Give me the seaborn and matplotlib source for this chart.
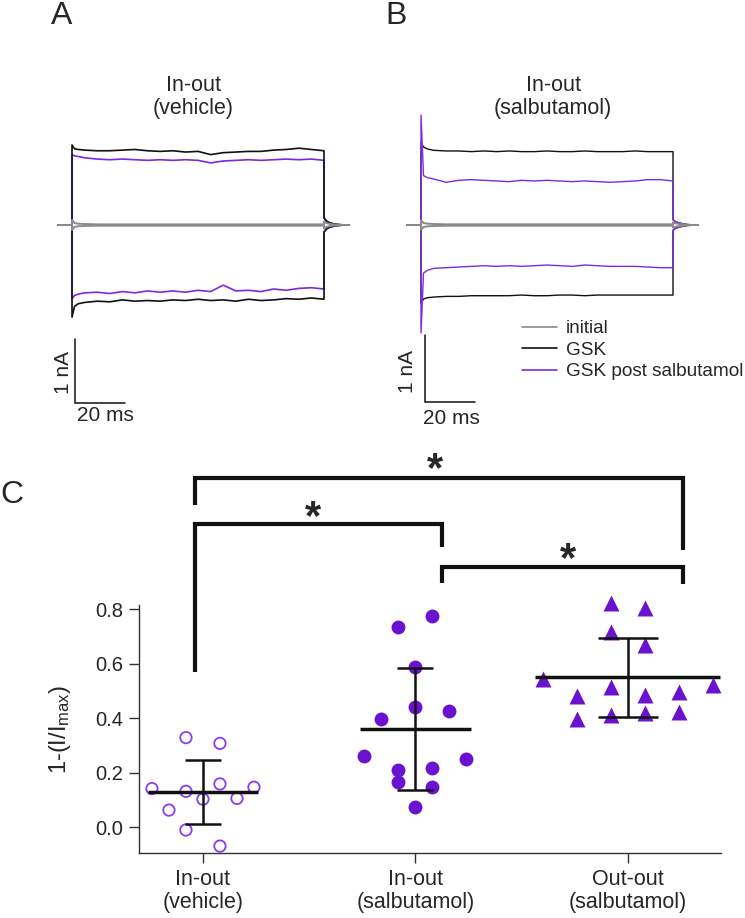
import numpy as np
import matplotlib
matplotlib.use("Agg")
import matplotlib.pyplot as plt
import seaborn as sns

# ---------------- Panel C data ----------------
group_labels = ["In-out\n(vehicle)", "In-out\n(salbutamol)", "Out-out\n(salbutamol)"]
vehicle = [0.328, 0.307, 0.141, 0.131, 0.158, 0.146, 0.102, 0.105, 0.062, -0.011, -0.070]
salb_in = [0.774, 0.733, 0.586, 0.442, 0.427, 0.395, 0.261, 0.250, 0.209, 0.215, 0.166, 0.148, 0.072]
salb_out = [0.823, 0.803, 0.717, 0.668, 0.542, 0.513, 0.521, 0.481, 0.484, 0.494, 0.395, 0.411, 0.417, 0.423]
# column slot of each point within its group (scatter layout)
vehicle_slot = [-1, 1, -3, -1, 1, 3, 0, 2, -2, -1, 1]
salb_in_slot = [1, -1, 0, 0, 2, -2, -3, 3, -1, 1, -1, 1, 0]
salb_out_slot = [-1, 1, -1, 1, -5, -1, 5, -3, 1, 3, -3, -1, 1, 3]
yticks = [0.0, 0.2, 0.4, 0.6, 0.8]
ytick_labels = ["0.0", "0.2", "0.4", "0.6", "0.8"]
sig_label = "*"

# ---------------- Panel A/B trace data (nA) ----------------
t_pre = [-5.5, 0]
t_step = [0, 1, 2.5, 5, 10, 15, 20, 25, 30, 35, 40, 45, 50, 55, 60, 65, 70, 75, 80, 85, 90, 95, 100]
t_tail = [100, 101, 102.5, 105, 108, 110]

A_gsk_pos = [1.25, 1.19, 1.18, 1.17, 1.16, 1.16, 1.17, 1.18, 1.16, 1.15, 1.16, 1.14, 1.15, 1.10, 1.13, 1.14, 1.15, 1.15, 1.17, 1.18, 1.20, 1.18, 1.16]
A_post_pos = [1.10, 1.08, 1.07, 1.05, 1.03, 1.02, 1.03, 1.02, 1.01, 1.02, 1.01, 1.02, 1.01, 0.97, 1.00, 1.01, 1.02, 1.01, 1.02, 1.03, 1.02, 1.03, 1.01]
A_gsk_neg = [-1.44, -1.27, -1.23, -1.21, -1.19, -1.20, -1.17, -1.19, -1.18, -1.19, -1.17, -1.18, -1.16, -1.18, -1.17, -1.19, -1.16, -1.18, -1.17, -1.15, -1.16, -1.14, -1.16]
A_post_neg = [-1.15, -1.10, -1.08, -1.06, -1.05, -1.07, -1.04, -1.06, -1.03, -1.05, -1.03, -1.05, -1.02, -1.04, -0.94, -1.03, -1.02, -1.04, -1.00, -1.02, -0.99, -0.98, -1.00]
A_init_pos = [0.08, 0.03, 0.02, 0.015, 0.01, 0.01, 0.01, 0.01, 0.01, 0.01, 0.01, 0.01, 0.01, 0.01, 0.01, 0.01, 0.01, 0.01, 0.01, 0.01, 0.01, 0.01, 0.01]
A_init_neg = [-0.08, -0.03, -0.02, -0.015, -0.01, -0.01, -0.01, -0.01, -0.01, -0.01, -0.01, -0.01, -0.01, -0.01, -0.01, -0.01, -0.01, -0.01, -0.01, -0.01, -0.01, -0.01, -0.01]
A_tail_pos = [0.11, 0.06, 0.03, 0.01, 0.0, 0.0]
A_tail_neg = [-0.11, -0.06, -0.03, -0.01, 0.0, 0.0]

B_gsk_pos = [1.23, 1.17, 1.14, 1.12, 1.11, 1.11, 1.10, 1.11, 1.10, 1.11, 1.10, 1.10, 1.11, 1.10, 1.10, 1.11, 1.10, 1.10, 1.10, 1.11, 1.10, 1.10, 1.10]
B_post_pos = [1.65, 0.74, 0.71, 0.69, 0.64, 0.67, 0.68, 0.67, 0.66, 0.65, 0.67, 0.66, 0.67, 0.66, 0.65, 0.66, 0.65, 0.64, 0.65, 0.66, 0.68, 0.68, 0.66]
B_gsk_neg = [-1.18, -1.11, -1.09, -1.08, -1.07, -1.07, -1.06, -1.06, -1.06, -1.06, -1.05, -1.06, -1.06, -1.05, -1.05, -1.06, -1.05, -1.05, -1.05, -1.05, -1.05, -1.05, -1.05]
B_post_neg = [-1.62, -0.72, -0.68, -0.65, -0.64, -0.63, -0.62, -0.61, -0.62, -0.61, -0.62, -0.61, -0.60, -0.61, -0.62, -0.60, -0.61, -0.62, -0.62, -0.62, -0.63, -0.64, -0.64]
B_init_pos = [0.07, 0.03, 0.02, 0.015, 0.01, 0.01, 0.01, 0.01, 0.01, 0.01, 0.01, 0.01, 0.01, 0.01, 0.01, 0.01, 0.01, 0.01, 0.01, 0.01, 0.01, 0.01, 0.01]
B_init_neg = [-0.07, -0.03, -0.02, -0.015, -0.01, -0.01, -0.01, -0.01, -0.01, -0.01, -0.01, -0.01, -0.01, -0.01, -0.01, -0.01, -0.01, -0.01, -0.01, -0.01, -0.01, -0.01, -0.01]
B_tail_pos = [0.08, 0.05, 0.03, 0.01, 0.0, 0.0]
B_tail_neg = [-0.08, -0.05, -0.03, -0.01, 0.0, 0.0]

legend_labels = ["initial", "GSK", "GSK post salbutamol"]
bar_nA = 1
bar_ms = 20

# ---------------- style ----------------
sns.set_style("ticks")
plt.rcParams["font.family"] = ["Liberation Sans", "DejaVu Sans"]
plt.rcParams["mathtext.default"] = "regular"

PURPLE = "#6a12d0"
OPEN_PURPLE = "#8a3cf2"
TRACE_PURPLE = "#7a2ae6"
GRAY = "#8a8a8a"
BLACK = "#111111"

W, H = 745, 918
fig = plt.figure(figsize=(W / 100, H / 100), dpi=100)


def fx(px):
    return px / W


def fy(py):
    return 1 - py / H


# ---------------- Panels A and B ----------------
def trace(step, tail):
    t = t_pre + t_step + t_tail
    v = [0, 0] + list(step) + list(tail)
    return t, v


def draw_traces(ax, init_p, init_n, gsk_p, gsk_n, post_p, post_n, tail_p, tail_n,
                lw, purple_on_top):
    black = [(gsk_p, tail_p, BLACK), (gsk_n, tail_n, BLACK)]
    purple = [(post_p, tail_p, TRACE_PURPLE), (post_n, tail_n, TRACE_PURPLE)]
    layers = black + purple if purple_on_top else purple + black
    for step, tail, col in layers:
        t, v = trace(step, tail)
        sns.lineplot(x=t, y=v, sort=False, estimator=None, ax=ax, color=col, lw=lw)
    for step, tail in [(init_p, tail_p), (init_n, tail_n)]:
        t, v = trace(step, [x * 0.5 for x in tail])
        sns.lineplot(x=t, y=v, sort=False, estimator=None, ax=ax, color=GRAY, lw=1.4)
    ax.set_axis_off()


axA = fig.add_axes([fx(40), fy(440), fx(330), 340 / H])
draw_traces(axA, A_init_pos, A_init_neg, A_gsk_pos, A_gsk_neg, A_post_pos, A_post_neg,
            A_tail_pos, A_tail_neg, 1.2, purple_on_top=False)
axA.set_xlim(-12.70, 118.25)
axA.set_ylim(-3.359, 1.953)

axB = fig.add_axes([fx(390), fy(440), fx(330), 340 / H])
draw_traces(axB, B_init_pos, B_init_neg, B_gsk_pos, B_gsk_neg, B_post_pos, B_post_neg,
            B_tail_pos, B_tail_neg, 1.0, purple_on_top=True)
axB.set_xlim(-12.30, 118.65)
axB.set_ylim(-3.223, 1.874)

# scale bars
for ax, (t0, y0), (tx, ty), (sx, sy) in [
        (axA, (1.19, -2.78), (-3.2, -2.31), (2.0, -2.97)),
        (axB, (1.59, -2.65), (-5.2, -2.20), (0.8, -2.90))]:
    ax.plot([t0, t0, t0 + bar_ms], [y0 + bar_nA, y0, y0], color=BLACK, lw=1.1,
            solid_joinstyle="miter")
    ax.text(tx, ty, f"{bar_nA} nA", rotation=90, ha="center", va="center", fontsize=15)
    ax.text(sx, sy, f"{bar_ms} ms", ha="left", va="center", fontsize=15)

fig.text(fx(193), fy(97), "In-out\n(vehicle)", ha="center", va="center",
         fontsize=15.5, linespacing=1.15)
fig.text(fx(553), fy(97), "In-out\n(salbutamol)", ha="center", va="center",
         fontsize=15.5, linespacing=1.15)

leg_handles = [plt.Line2D([], [], color=c, lw=1.2) for c in (GRAY, BLACK, TRACE_PURPLE)]
fig.legend(leg_handles, legend_labels, loc="upper left",
           bbox_to_anchor=(fx(522), fy(320)), bbox_transform=fig.transFigure,
           frameon=False, borderpad=0, borderaxespad=0, handlelength=1.84,
           handletextpad=0.47, labelspacing=0.22, fontsize=13.7)

# panel letters
fig.text(fx(62), fy(16), "A", ha="center", va="center", fontsize=23)
fig.text(fx(396), fy(16), "B", ha="center", va="center", fontsize=23)
fig.text(fx(12), fy(495), "C", ha="center", va="center", fontsize=23)

# ---------------- Panel C ----------------
axC = fig.add_axes([fx(139), fy(853), 582 / W, 248 / H])
axC.set_xlim(-0.301, 2.438)
axC.set_ylim(-0.0954, 0.8147)

slot_step = 0.08
series = [(vehicle, vehicle_slot), (salb_in, salb_in_slot), (salb_out, salb_out_slot)]
mean_half = [0.26, 0.26, 0.435]
cap_pts = [13, 13, 21.5]

for i, (vals, slots) in enumerate(series):
    x = i + np.array(slots) * slot_step
    if i == 0:
        sns.scatterplot(x=x, y=vals, ax=axC, marker="o", s=8.2 ** 2, facecolor="none",
                        edgecolor=OPEN_PURPLE, linewidth=1.3, clip_on=False, zorder=3)
    elif i == 1:
        sns.scatterplot(x=x, y=vals, ax=axC, marker="o", s=10 ** 2, color=PURPLE,
                        edgecolor=PURPLE, linewidth=0, clip_on=False, zorder=3)
    else:
        sns.scatterplot(x=x, y=vals, ax=axC, marker="^", s=11.5 ** 2, color=PURPLE,
                        edgecolor=PURPLE, linewidth=0, clip_on=False, zorder=3)
    m = float(np.mean(vals))
    sd = float(np.std(vals, ddof=1))
    axC.errorbar(i, m, yerr=sd, fmt="none", ecolor=BLACK, elinewidth=1.8,
                 capsize=cap_pts[i], capthick=1.8, zorder=4)
    axC.hlines(m, i - mean_half[i], i + mean_half[i], color=BLACK, lw=2.5, zorder=4)

# significance brackets (x0, x1, y_top, y_left_end, y_right_end, star_x, star_y)
brackets = [
    (-0.038, 2.26, 1.281, 1.182, 1.017, 1.092, 1.268),
    (-0.038, 1.125, 1.112, 0.569, 1.028, 0.518, 1.095),
    (1.125, 2.26, 0.954, 0.895, 0.892, 1.718, 0.940),
]
for x0, x1, yt, yl, yr, sx, sy in brackets:
    axC.plot([x0, x0, x1, x1], [yl, yt, yt, yr], color=BLACK, lw=3,
             clip_on=False, solid_joinstyle="miter", solid_capstyle="butt")
    axC.text(sx, sy, sig_label, ha="center", va="baseline", fontsize=30,
             fontweight="bold", clip_on=False)

axC.set_xticks([0, 1, 2])
axC.set_xticklabels(group_labels, fontsize=15.5, linespacing=1.15)
axC.set_yticks(yticks)
axC.set_yticklabels(ytick_labels, fontsize=14.5)
axC.tick_params(direction="out", length=7.2, width=1, color="#333333", pad=4)
sns.despine(ax=axC)
for sp in ("left", "bottom"):
    axC.spines[sp].set_linewidth(1.0)
    axC.spines[sp].set_color("#333333")
axC.set_ylabel("1-(I/I$_{max}$)", fontsize=17)
axC.yaxis.set_label_coords(-0.113, 0.5)

fig.savefig("out.png", dpi=100)
